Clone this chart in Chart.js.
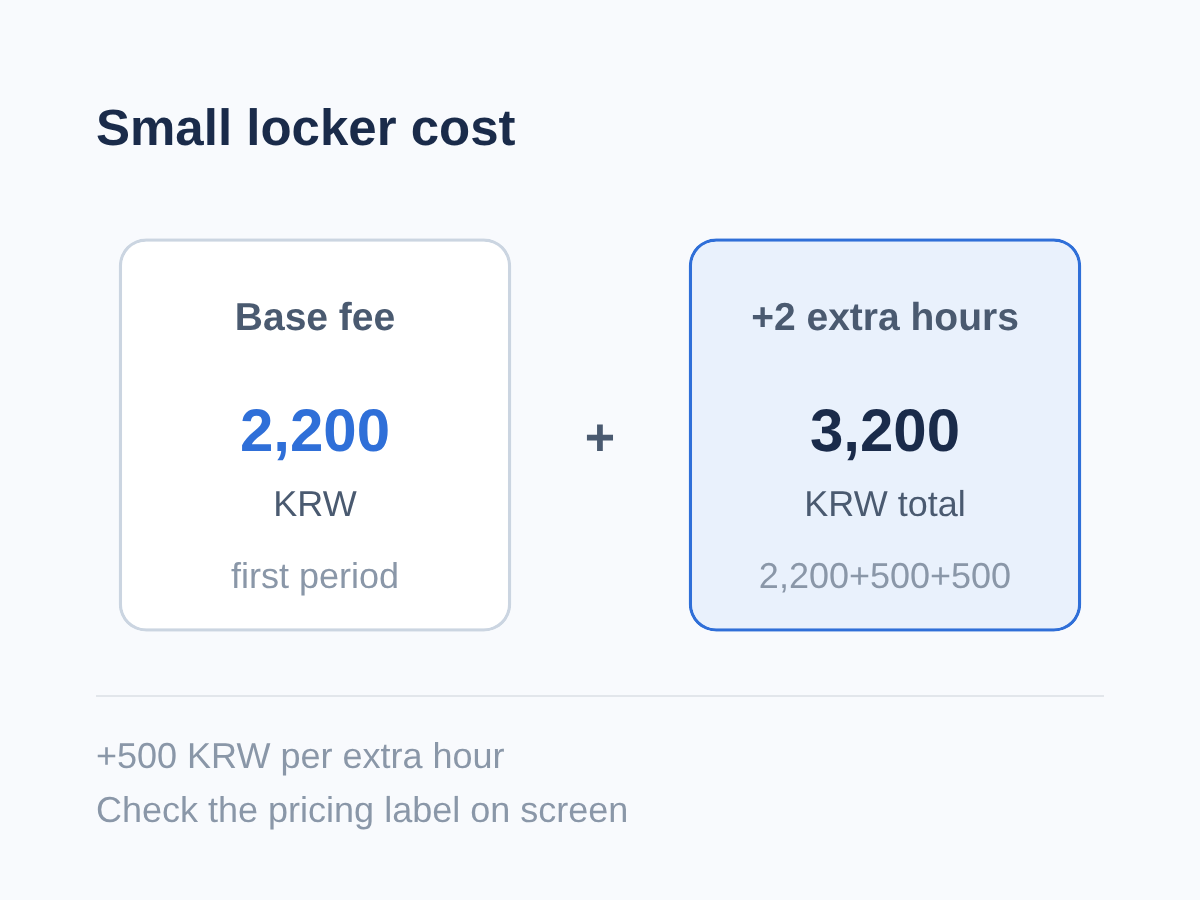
<!DOCTYPE html>
<html>
<head>
<meta charset="utf-8">
<title>Small locker cost</title>
<script src="https://cdn.jsdelivr.net/npm/chart.js@4"></script>
<style>
  html, body { margin: 0; background: #f8fafd; }
  #wrap { width: 1200px; height: 900px; }
</style>
</head>
<body>
<div id="wrap"><canvas id="myChart"></canvas></div>
<script>
var titleText = "Small locker cost";
var categories = ["Base fee", "+2 extra hours"];
var cards = [1, 1]; // both cards are the same size
var amounts = ["2,200", "3,200"];
var units = ["KRW", "KRW total"];
var notes = ["first period", "2,200+500+500"];
var footer = ["+500 KRW per extra hour", "Check the pricing label on screen"];

var FONT = '"Liberation Sans", Arial, sans-serif';

function put(ctx, str, x, y, font, color, align) {
  ctx.font = font + " " + FONT;
  ctx.fillStyle = color;
  ctx.textAlign = align || "center";
  ctx.textBaseline = "alphabetic";
  ctx.textRendering = "geometricPrecision";
  ctx.fillText(str, x, y);
}

var cardText = {
  id: "cardText",
  afterDatasetsDraw: function (chart) {
    var ctx = chart.ctx;
    var bars = chart.getDatasetMeta(0).data;
    ctx.save();
    put(ctx, titleText, 96, 145, "bold 51px", "#1a2b4a", "left");
    categories.forEach(function (c, i) {
      var x = bars[i].x;
      put(ctx, c, x, 330, "bold 39px", "#4a5a70");
      put(ctx, amounts[i], x, 451, "bold 60px", i == 0 ? "#2f6fd8" : "#1a2b4a");
      put(ctx, units[i], x, 516, "36px", "#4a5a70");
      put(ctx, notes[i], x, 588, "36px", "#8a97a8");
    });
    put(ctx, "+", (bars[0].x + bars[1].x) / 2, 455, "bold 52px", "#4a5a70");

    ctx.strokeStyle = "#e2e6eb";
    ctx.lineWidth = 2;
    ctx.beginPath();
    ctx.moveTo(96, 696);
    ctx.lineTo(1104, 696);
    ctx.stroke();

    put(ctx, footer[0], 96, 768, "36px", "#8a97a8", "left");
    put(ctx, footer[1], 96, 822, "36px", "#8a97a8", "left");
    ctx.restore();
  }
};

var ctx = document.getElementById("myChart").getContext("2d");
var myChart = new Chart(ctx, {
  type: "bar",
  data: {
    labels: categories,
    datasets: [
      {
        data: cards,
        // bar border is clipped then filled, so its soft edges fade twice; these sizes look like a 3px line
        barThickness: 392.58,
        backgroundColor: ["#ffffff", "#e9f1fc"],
        borderColor: ["#cbd5e1", "#2f6fd8"],
        borderWidth: 3.42,
        borderRadius: 27.5,
        borderSkipped: false,
        inflateAmount: 0,
      },
    ],
  },
  options: {
    responsive: true,
    maintainAspectRatio: false,
    animation: false,
    layout: { padding: { left: 30, right: 30, top: 238.29, bottom: 268.29 } },
    scales: {
      x: { display: false },
      y: { display: false, min: 0, max: 1 },
    },
    plugins: {
      legend: { display: false },
      tooltip: { enabled: false },
    },
  },
  plugins: [cardText],
});
</script>
</body>
</html>
